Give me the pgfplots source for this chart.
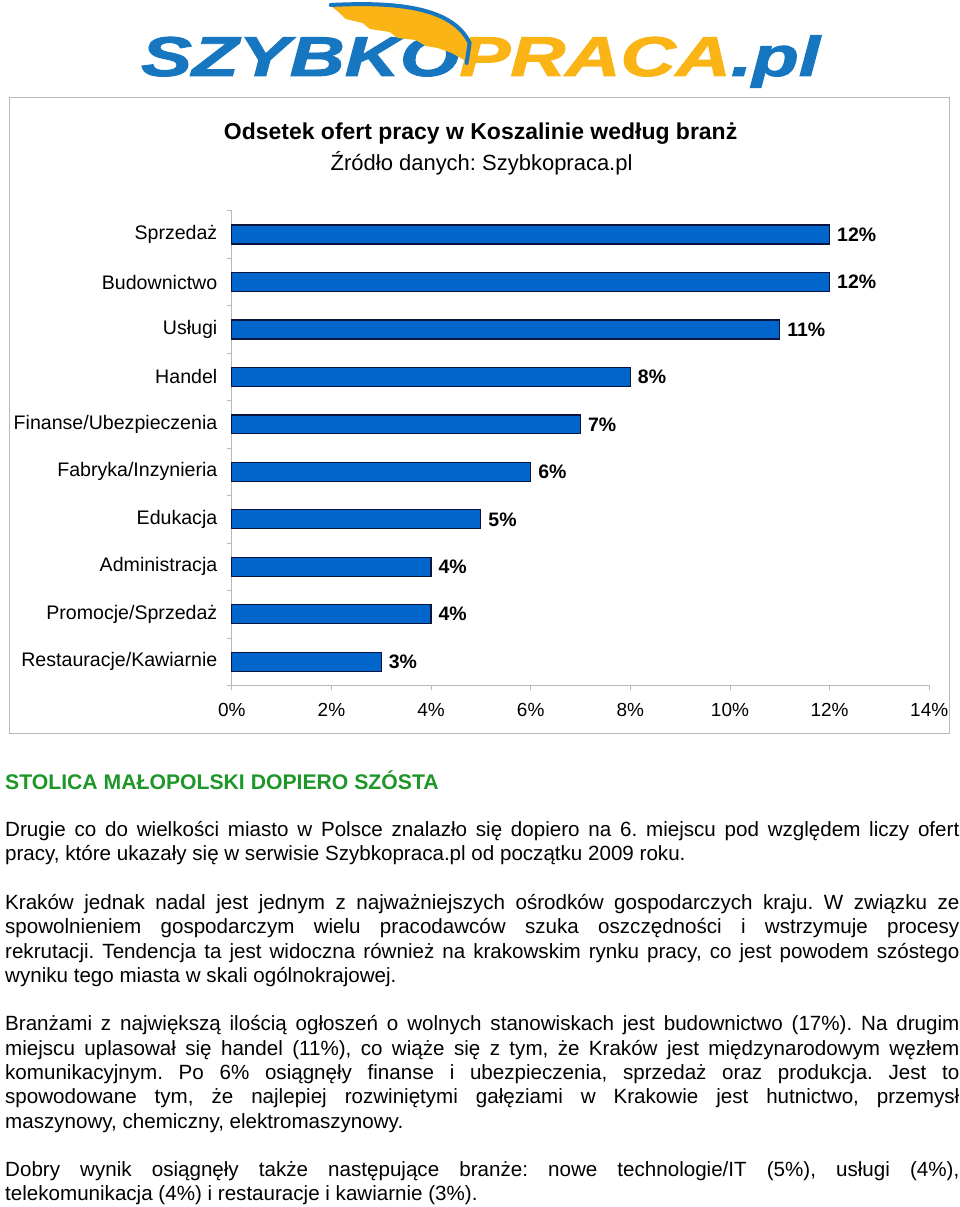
\documentclass[border=0pt]{standalone}
\usepackage{pgfplots}
\pgfplotsset{compat=1.18}
\usepackage{graphicx}
\usepackage{fontspec}
\setmainfont{Liberation Sans}
\newfontfamily\logofont[FakeBold=1.6]{Liberation Sans}
\definecolor{barblue}{RGB}{0,102,204}
\definecolor{barline}{RGB}{10,20,60}
\definecolor{logoblue}{RGB}{22,118,192}
\definecolor{logoorange}{RGB}{250,180,22}
\definecolor{headgreen}{RGB}{30,150,40}
\definecolor{axgray}{RGB}{185,185,185}
\begin{document}
\frenchspacing
\begin{tikzpicture}
\path[fill=white] (0pt,0pt) rectangle (960pt,-1207pt);
% logo text
\node[anchor=base west, inner sep=0] at (141pt,-75pt) {\scalebox{1.365}[1]{\fontsize{56}{56}\selectfont\logofont\bfseries\itshape\color{logoblue}SZYBKO\color{logoorange}PRACA\color{logoblue}.pl}};
% logo wing
\fill[logoorange] (330pt,-4pt) .. controls (390pt,-1pt) and (452pt,-4pt) .. (470pt,-42pt)
  -- (466pt,-60pt) -- (452pt,-52pt) -- (438pt,-47pt) -- (426pt,-45pt) -- (416pt,-39pt) -- (398pt,-37pt)
  -- (390pt,-31pt) -- (370pt,-28pt) -- (363pt,-22pt) -- (346pt,-18pt) -- (340pt,-12pt) -- cycle;
\draw[logoblue, line width=4pt, line cap=round] (331pt,-4pt) .. controls (390pt,-1pt) and (452pt,-4pt) .. (470pt,-42pt) -- (467pt,-62pt);
% chart box
\draw[axgray, line width=1pt] (10pt,-97pt) rectangle (950pt,-733pt);
\node[anchor=base, inner sep=0] at (481pt,-139pt) {\fontsize{23}{26}\selectfont\bfseries Odsetek ofert pracy w Koszalinie według branż};
\node[anchor=base, inner sep=0] at (482pt,-170pt) {\fontsize{22}{26}\selectfont Źródło danych: Szybkopraca.pl};
\begin{axis}[
  at={(232pt,-685pt)}, anchor=south west,
  scale only axis, width=698pt, height=475pt,
  xmin=0, xmax=14, ymin=-0.5, ymax=9.5,
  xbar, bar width=19pt,
  axis x line*=bottom, axis y line*=left,
  axis line style={axgray, line width=1pt},
  /pgf/number format/assume math mode=true,
  xtick={0,2,...,14},
  xticklabel={\pgfmathprintnumber{\tick}\%},
  ytick={0,...,9},
  yticklabels={Restauracje/Kawiarnie,Promocje/Sprzedaż,Administracja,Edukacja,Fabryka/Inzynieria,Finanse/Ubezpieczenia,Handel,Usługi,Budownictwo,Sprzedaż},
  minor ytick={-0.5,0.5,...,9.5},
  tick align=outside,
  major tick length=5pt, minor tick length=5pt,
  major y tick style={draw=none},
  minor y tick style={axgray, line width=0.8pt},
  major x tick style={axgray, line width=0.8pt},
  ticklabel style={font=\fontsize{19}{22}\selectfont},
  yticklabel style={font=\fontsize{19.6}{22}\selectfont, xshift=-6pt},
  xticklabel style={yshift=-9pt},
  nodes near coords={\pgfmathprintnumber{\pgfplotspointmeta}\%},
  nodes near coords style={font=\fontsize{19.5}{22}\selectfont\bfseries, inner sep=3pt, xshift=4pt},
  clip=false,
]
\addplot[fill=barblue, draw=barline, line width=1.2pt] coordinates {
  (3,0) (4,1) (4,2) (5,3) (6,4) (7,5) (8,6) (11,7) (12,8) (12,9)};
\end{axis}
% text
\node[anchor=base west, inner sep=0] at (5pt,-789pt) {\fontsize{21.2}{24}\selectfont\bfseries\color{headgreen}STOLICA MAŁOPOLSKI DOPIERO SZÓSTA};
\node[anchor=north west, inner sep=0, text width=955pt, align=justify] at (5pt,-821pt) {\fontsize{20.6}{24.3}\selectfont
Drugie co do wielkości miasto w Polsce znalazło się dopiero na 6. miejscu pod względem liczy ofert\linebreak
pracy, które ukazały się w serwisie Szybkopraca.pl od początku 2009 roku.\par\vspace{24.3pt}
Kraków jednak nadal jest jednym z najważniejszych ośrodków gospodarczych kraju. W związku ze\linebreak
spowolnieniem gospodarczym wielu pracodawców szuka oszczędności i wstrzymuje procesy\linebreak
rekrutacji. Tendencja ta jest widoczna również na krakowskim rynku pracy, co jest powodem szóstego\linebreak
wyniku tego miasta w skali ogólnokrajowej.\par\vspace{24.3pt}
Branżami z największą ilością ogłoszeń o wolnych stanowiskach jest budownictwo (17\%). Na drugim\linebreak
miejscu uplasował się handel (11\%), co wiąże się z tym, że Kraków jest międzynarodowym węzłem\linebreak
komunikacyjnym. Po 6\% osiągnęły finanse i ubezpieczenia, sprzedaż oraz produkcja. Jest to\linebreak
spowodowane tym, że najlepiej rozwiniętymi gałęziami w Krakowie jest hutnictwo, przemysł\linebreak
maszynowy, chemiczny, elektromaszynowy.\par\vspace{24.3pt}
Dobry wynik osiągnęły także następujące branże: nowe technologie/IT (5\%), usługi (4\%),\linebreak
telekomunikacja (4\%) i restauracje i kawiarnie (3\%).\par};
\end{tikzpicture}
\end{document}
